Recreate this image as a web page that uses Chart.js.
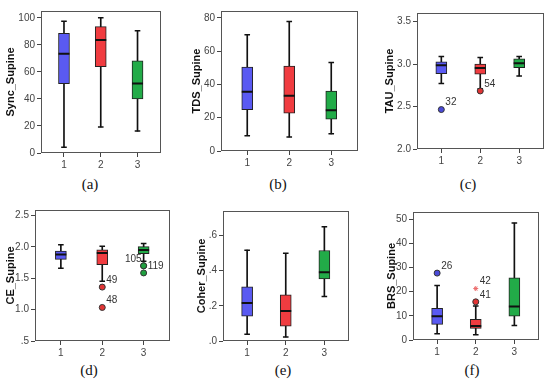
<!DOCTYPE html>
<html>
<head>
<meta charset="utf-8">
<script src="https://cdn.jsdelivr.net/npm/chart.js@4.4.0/dist/chart.umd.min.js"></script>
<style>
  body { margin: 0; background: #fff; }
  #wrap { position: relative; width: 550px; height: 385px; overflow: hidden; }
  canvas { position: absolute; }
  .cap { position: absolute; font-family: "Times New Roman", "Liberation Serif", "DejaVu Serif", serif; font-size: 15px; color: #111; transform: translateX(-50%); }
</style>
</head>
<body>
<div id="wrap"></div>
<script>
  // groups on the x axis
  var groups = [1, 2, 3];
  var boxColors = ['#5a5af2', '#f03c40', '#22ab48'];
  var dotColors = ['#4a4ad8', '#e03434', '#20a040'];
  var SANS = 'Arial, "Liberation Sans", Helvetica, sans-serif';

  // (a) Sync_Supine
  var syncLow = [4.2, 19.3, 16.2];
  var syncQ1 = [51.3, 63.8, 40.0];
  var syncMedian = [73.4, 83.5, 51.3];
  var syncQ3 = [88.5, 93.4, 68.2];
  var syncHigh = [97.4, 100.0, 90.4];
  var syncTicks = [0, 20, 40, 60, 80, 100];

  // (b) TDS_Supine
  var tdsLow = [9.2, 8.4, 10.3];
  var tdsQ1 = [24.9, 22.8, 19.1];
  var tdsMedian = [35.6, 33.3, 24.5];
  var tdsQ3 = [50.5, 51.1, 36.0];
  var tdsHigh = [69.9, 77.9, 53.2];
  var tdsTicks = [0, 20, 40, 60, 80];

  // (c) TAU_Supine
  var tauLow = [2.77, 2.71, 2.86];
  var tauQ1 = [2.887, 2.88, 2.958];
  var tauMedian = [2.984, 2.954, 3.01];
  var tauQ3 = [3.025, 2.999, 3.062];
  var tauHigh = [3.088, 3.077, 3.088];
  var tauOutX = [1, 2];
  var tauOutY = [2.464, 2.683];
  var tauOutLabels = ['32', '54'];
  var tauTicks = [2.0, 2.5, 3.0, 3.5];

  // (d) CE_Supine
  var ceLow = [1.662, 1.455, 1.773];
  var ceQ1 = [1.803, 1.717, 1.894];
  var ceMedian = [1.879, 1.904, 1.95];
  var ceQ3 = [1.934, 1.955, 2.005];
  var ceHigh = [2.035, 2.01, 2.056];
  var ceOutX = [2, 2, 3, 3, 3];
  var ceOutY = [1.36, 1.035, 1.70, 1.70, 1.586];
  var ceOutLabels = ['49', '48', '105', '119', ''];
  var ceTicks = [0.5, 1.0, 1.5, 2.0, 2.5];

  // (e) Coher_Supine
  var coherLow = [0.038, 0.023, 0.254];
  var coherQ1 = [0.142, 0.085, 0.353];
  var coherMedian = [0.216, 0.171, 0.391];
  var coherQ3 = [0.308, 0.263, 0.515];
  var coherHigh = [0.517, 0.499, 0.65];
  var coherTicks = [0, 0.2, 0.4, 0.6];

  // (f) BRS_Supine
  var brsLow = [2.6, 2.2, 6.0];
  var brsQ1 = [6.5, 4.8, 9.9];
  var brsMedian = [9.8, 5.8, 13.9];
  var brsQ3 = [13.1, 8.6, 25.7];
  var brsHigh = [22.6, 14.1, 48.4];
  var brsOutX = [1, 2];
  var brsOutY = [27.7, 15.8];
  var brsOutLabels = ['26', '41'];
  var brsExtX = [2];
  var brsExtY = [21.3];
  var brsExtLabels = ['42'];
  var brsTicks = [0, 10, 20, 30, 40, 50];

  var intFmt = function (v) { return String(v); };
  var oneFmt = function (v) { return v.toFixed(1); };
  var dotFmt = function (v) { return v.toFixed(1).replace(/^0/, ''); };

  // frame round the plot area
  var framePlugin = {
    id: 'frame',
    beforeDatasetsDraw: function (chart) {
      var a = chart.chartArea, c = chart.ctx;
      c.save();
      c.strokeStyle = '#555';
      c.lineWidth = 1;
      c.strokeRect(Math.round(a.left) + 0.5, Math.round(a.top) + 0.5,
        Math.round(a.right - a.left) - 1, Math.round(a.bottom - a.top) - 1);
      c.restore();
    }
  };

  // case numbers next to outliers
  var labelPlugin = {
    id: 'outlierLabels',
    afterDatasetsDraw: function (chart) {
      var c = chart.ctx;
      c.save();
      c.font = '10px ' + SANS;
      c.fillStyle = '#333';
      c.textBaseline = 'middle';
      chart.data.datasets.forEach(function (ds, i) {
        if (!ds.caseLabels) return;
        chart.getDatasetMeta(i).data.forEach(function (pt, j) {
          var txt = ds.caseLabels[j];
          if (!txt) return;
          if (txt === '105') {
            c.textAlign = 'right';
            c.fillText(txt, pt.x - 2, pt.y - 7);
          } else if (txt === '119') {
            c.textAlign = 'left';
            c.fillText(txt, pt.x + 4, pt.y);
          } else {
            c.textAlign = 'left';
            c.fillText(txt, pt.x + 4, pt.y - 7);
          }
        });
      });
      c.restore();
    }
  };

  function pts(xs, ys) { return xs.map(function (x, i) { return { x: x, y: ys[i] }; }); }

  function makePanel(p) {
    var width = p.w + (p.R - p.L) + 2;
    var height = 1 + (p.B - p.T) + 20;
    var cv = document.createElement('canvas');
    cv.width = width; cv.height = height;
    cv.style.left = (p.L - p.w) + 'px';
    cv.style.top = (p.T - 1) + 'px';
    document.getElementById('wrap').appendChild(cv);

    var cap = document.createElement('div');
    cap.className = 'cap';
    cap.textContent = p.caption;
    cap.style.left = p.capX + 'px';
    cap.style.top = p.capY + 'px';
    document.getElementById('wrap').appendChild(cap);

    var datasets = [
      {
        type: 'bar', order: 5, grouped: false, barThickness: 1,
        backgroundColor: '#111',
        data: groups.map(function (g, i) { return { x: g, y: [p.low[i], p.high[i]] }; })
      },
      {
        type: 'bar', order: 4, grouped: false, barThickness: 11,
        backgroundColor: boxColors, borderColor: '#222', borderWidth: 1, borderSkipped: false,
        data: groups.map(function (g, i) { return { x: g, y: [p.q1[i], p.q3[i]] }; })
      },
      {
        type: 'line', order: 3, showLine: false, pointStyle: 'line',
        pointRadius: 2.8, pointHoverRadius: 2.8, borderColor: '#111', borderWidth: 1.5,
        data: pts(groups, p.low).concat(pts(groups, p.high))
      },
      {
        type: 'line', order: 2, showLine: false, pointStyle: 'line',
        pointRadius: 5.5, pointHoverRadius: 5.5, borderColor: '#111', borderWidth: 2,
        data: pts(groups, p.median)
      }
    ];
    if (p.outX) {
      datasets.push({
        type: 'line', order: 1, showLine: false, pointStyle: 'circle',
        pointRadius: 3, pointHoverRadius: 3, borderWidth: 1,
        pointBackgroundColor: p.outX.map(function (x) { return dotColors[x - 1]; }),
        pointBorderColor: '#333',
        data: pts(p.outX, p.outY), caseLabels: p.outLabels
      });
    }
    if (p.extX) {
      datasets.push({
        type: 'line', order: 1, showLine: false, pointStyle: 'star',
        pointRadius: 2.5, pointHoverRadius: 2.5, borderWidth: 1,
        pointBorderColor: p.extX.map(function () { return '#ec6a6a'; }),
        data: pts(p.extX, p.extY), caseLabels: p.extLabels
      });
    }

    var tickFont = { family: SANS, size: 10 };
    new Chart(cv.getContext('2d'), {
      type: 'bar',
      data: { datasets: datasets },
      options: {
        responsive: false,
        animation: false,
        devicePixelRatio: 1,
        layout: { padding: { top: 1, right: 2, left: 0, bottom: 0 } },
        plugins: { legend: { display: false }, tooltip: { enabled: false } },
        scales: {
          x: {
            type: 'linear', min: 0.375, max: 3.625, offset: false,
            afterBuildTicks: function (axis) { axis.ticks = groups.map(function (g) { return { value: g }; }); },
            afterFit: function (axis) { axis.height = 20; },
            border: { display: false },
            grid: { display: true, drawOnChartArea: false, drawTicks: true, tickLength: 4, color: '#444', offset: false },
            ticks: { color: '#444', font: tickFont, padding: 2, maxRotation: 0, callback: function (v) { return String(v); } }
          },
          y: {
            min: p.min, max: p.max,
            afterBuildTicks: function (axis) { axis.ticks = p.ticks.map(function (t) { return { value: t }; }); },
            afterFit: function (axis) { axis.width = p.w; },
            border: { display: false },
            grid: { display: true, drawOnChartArea: false, drawTicks: true, tickLength: 4, color: '#444' },
            ticks: { color: '#444', font: tickFont, padding: 2, callback: function (v) { return p.fmt(v); } },
            title: {
              display: true, text: p.title, color: '#111', padding: { top: 4, bottom: 0 },
              font: { family: SANS, size: 11, weight: 'bold' }
            }
          }
        }
      },
      plugins: [framePlugin, labelPlugin]
    });
  }

  makePanel({ title: 'Sync_Supine', caption: '(a)', L: 41, R: 166, T: 4, B: 153, w: 41, capX: 90, capY: 176,
    low: syncLow, q1: syncQ1, median: syncMedian, q3: syncQ3, high: syncHigh,
    min: 0, max: 105, ticks: syncTicks, fmt: intFmt });
  makePanel({ title: 'TDS_Supine', caption: '(b)', L: 221, R: 363, T: 4, B: 151, w: 35, capX: 278, capY: 176,
    low: tdsLow, q1: tdsQ1, median: tdsMedian, q3: tdsQ3, high: tdsHigh,
    min: 0, max: 84.2, ticks: tdsTicks, fmt: intFmt });
  makePanel({ title: 'TAU_Supine', caption: '(c)', L: 417, R: 549, T: 6, B: 149, w: 38, capX: 468, capY: 176,
    low: tauLow, q1: tauQ1, median: tauMedian, q3: tauQ3, high: tauHigh,
    outX: tauOutX, outY: tauOutY, outLabels: tauOutLabels,
    min: 2.0, max: 3.6, ticks: tauTicks, fmt: oneFmt });
  makePanel({ title: 'CE_Supine', caption: '(d)', L: 35, R: 175, T: 203, B: 341, w: 35, capX: 89, capY: 362,
    low: ceLow, q1: ceQ1, median: ceMedian, q3: ceQ3, high: ceHigh,
    outX: ceOutX, outY: ceOutY, outLabels: ceOutLabels,
    min: 0.5, max: 2.59, ticks: ceTicks, fmt: dotFmt });
  makePanel({ title: 'Coher_Supine', caption: '(e)', L: 223, R: 354, T: 204, B: 341, w: 32, capX: 283, capY: 362,
    low: coherLow, q1: coherQ1, median: coherMedian, q3: coherQ3, high: coherHigh,
    min: 0, max: 0.74, ticks: coherTicks, fmt: dotFmt });
  makePanel({ title: 'BRS_Supine', caption: '(f)', L: 413, R: 544, T: 205, B: 340, w: 32, capX: 472, capY: 362,
    low: brsLow, q1: brsQ1, median: brsMedian, q3: brsQ3, high: brsHigh,
    outX: brsOutX, outY: brsOutY, outLabels: brsOutLabels,
    extX: brsExtX, extY: brsExtY, extLabels: brsExtLabels,
    min: 0, max: 53, ticks: brsTicks, fmt: intFmt });
</script>
</body>
</html>
